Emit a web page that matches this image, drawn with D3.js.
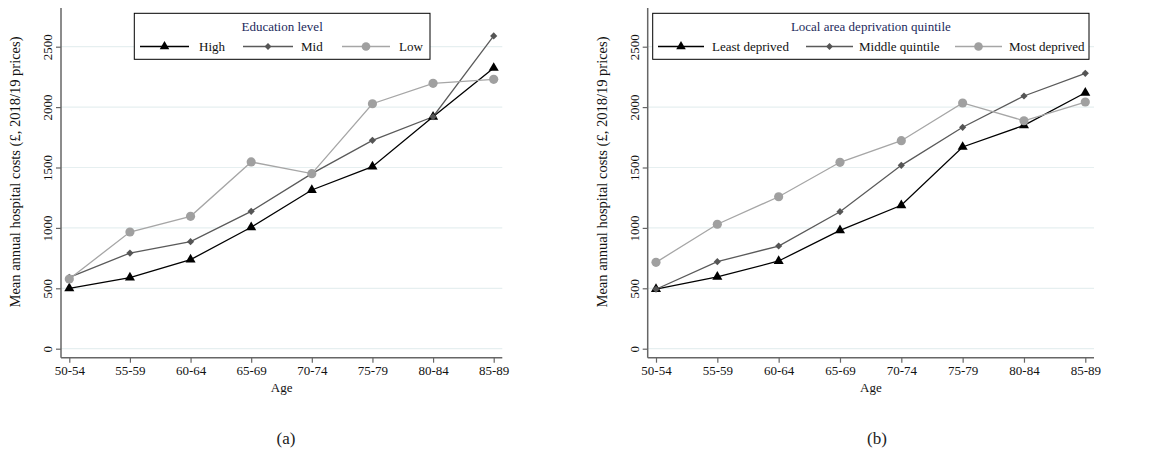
<!DOCTYPE html>
<html><head><meta charset="utf-8">
<script src="https://cdn.jsdelivr.net/npm/d3@7"></script>
<style>
body{margin:0;background:#fff;}
text{font-family:"Liberation Serif","Times New Roman",serif;}
</style></head>
<body><svg id="c" width="1158" height="454"></svg>
<script>
const ages = ["50-54","55-59","60-64","65-69","70-74","75-79","80-84","85-89"];
const yTicks = [0,500,1000,1500,2000,2500];
// Panel (a): education level
const eduHigh = [500,588,737,1005,1314,1507,1920,2324];
const eduMid  = [591,792,886,1137,1449,1725,1920,2589];
const eduLow  = [577,966,1096,1546,1449,2028,2197,2230];
// Panel (b): local area deprivation quintile
const depLeast  = [494,594,726,980,1187,1670,1849,2119];
const depMiddle = [492,720,850,1134,1518,1833,2092,2280];
const depMost   = [715,1030,1258,1543,1722,2034,1887,2042];

const svg = d3.select("#c");
const styles = [
  {color:"#000000", line:"#000000", sym:d3.symbolTriangle, size:44, rot:0},
  {color:"#555555", line:"#5a5a5a", sym:d3.symbolSquare, size:26, rot:45},
  {color:"#a0a0a0", line:"#a6a6a6", sym:d3.symbolCircle, size:66, rot:0}
];

function panel(cfg){
  const g = svg.append("g");
  const x = d3.scalePoint().domain(ages).range([cfg.x0, cfg.x1]);
  const y = d3.scaleLinear().domain([0,2500]).range([348.7, 46.7]);
  // gridlines
  g.selectAll("line.grid").data(yTicks).enter().append("line")
    .attr("x1", cfg.ax).attr("x2", cfg.axEnd)
    .attr("y1", d=>y(d)).attr("y2", d=>y(d))
    .attr("stroke","#e6eff0").attr("stroke-width",1.2);
  // y axis
  const ya = g.append("g").attr("transform",`translate(${cfg.ax},0)`)
    .call(d3.axisLeft(y).tickValues(yTicks).tickSize(5).tickSizeOuter(0).tickFormat(d3.format("d")));
  ya.select(".domain").remove();
  ya.selectAll(".tick line").attr("stroke","#666").attr("stroke-width",1.2);
  ya.selectAll(".tick text").attr("font-size",13).attr("fill","#111")
    .attr("transform","rotate(-90)").attr("x",0).attr("y",-9).attr("dy",0)
    .attr("text-anchor","middle");
  g.append("line").attr("x1",cfg.ax).attr("x2",cfg.ax).attr("y1",8).attr("y2",357.7)
    .attr("stroke","#666").attr("stroke-width",1.5);
  // x axis
  const xa = g.append("g").attr("transform",`translate(0,357.7)`)
    .call(d3.axisBottom(x).tickSize(5).tickSizeOuter(0));
  xa.select(".domain").remove();
  xa.selectAll(".tick line").attr("stroke","#666").attr("stroke-width",1.2);
  xa.selectAll(".tick text").attr("font-size",13).attr("fill","#111").attr("y",8);
  g.append("line").attr("x1",cfg.ax).attr("x2",cfg.axEnd).attr("y1",357.7).attr("y2",357.7)
    .attr("stroke","#666").attr("stroke-width",1.5);
  // axis titles
  g.append("text").attr("x",(cfg.ax+cfg.axEnd)/2).attr("y",392).attr("text-anchor","middle")
    .attr("font-size",13).attr("fill","#111").text("Age");
  g.append("text").attr("transform",`translate(${cfg.ax-41},172) rotate(-90)`)
    .attr("text-anchor","middle").attr("font-size",14.5).attr("fill","#111")
    .text("Mean annual hospital costs (£, 2018/19 prices)");
  // series
  const line = d3.line().x((d,i)=>x(ages[i])).y(d=>y(d));
  cfg.series.forEach((s,k)=>{
    const st = styles[k];
    g.append("path").datum(s.values).attr("d",line).attr("fill","none")
      .attr("stroke",st.line).attr("stroke-width",1.3);
  });
  cfg.series.forEach((s,k)=>{
    const st = styles[k];
    g.selectAll(null).data(s.values).enter().append("path")
      .attr("d", d3.symbol().type(st.sym).size(st.size))
      .attr("transform",(d,i)=>`translate(${x(ages[i])},${y(d)}) rotate(${st.rot})`)
      .attr("fill",st.color);
  });
  // legend
  const L = cfg.legend;
  g.append("rect").attr("x",L.x0).attr("y",13.3).attr("width",L.x1-L.x0).attr("height",46)
    .attr("fill","#fff").attr("stroke","#000").attr("stroke-width",1);
  g.append("text").attr("x",(L.x0+L.x1)/2).attr("y",31).attr("text-anchor","middle")
    .attr("font-size",13).attr("fill","#1c2a5c").text(L.title);
  cfg.series.forEach((s,k)=>{
    const st = styles[k], e = L.entries[k];
    g.append("line").attr("x1",e[0]).attr("x2",e[1]).attr("y1",46.5).attr("y2",46.5)
      .attr("stroke",st.line).attr("stroke-width",1.3);
    g.append("path").attr("d", d3.symbol().type(st.sym).size(st.size*0.9))
      .attr("transform",`translate(${(e[0]+e[1])/2},46.5) rotate(${st.rot})`).attr("fill",st.color);
    g.append("text").attr("x",e[2]).attr("y",51).attr("font-size",13).attr("fill","#111").text(s.name);
  });
  svg.append("text").attr("x",cfg.cap[0]).attr("y",cfg.cap[1]).attr("text-anchor","middle")
    .attr("font-size",17).attr("fill","#222").text(cfg.capText);
}

panel({x0:69.3, x1:493.7, ax:61, axEnd:502.3,
  series:[{name:"High",values:eduHigh},{name:"Mid",values:eduMid},{name:"Low",values:eduLow}],
  legend:{x0:134.3, x1:430, title:"Education level",
    entries:[[140,189,199],[243,293,301],[342,390,399]]},
  cap:[286,444], capText:"(a)"});
panel({x0:656, x1:1085.3, ax:647.7, axEnd:1094,
  series:[{name:"Least deprived",values:depLeast},{name:"Middle quintile",values:depMiddle},{name:"Most deprived",values:depMost}],
  legend:{x0:652.7, x1:1089, title:"Local area deprivation quintile",
    entries:[[658,704,712],[806,853,859],[955,1002,1009]]},
  cap:[877,444], capText:"(b)"});
</script></body></html>
